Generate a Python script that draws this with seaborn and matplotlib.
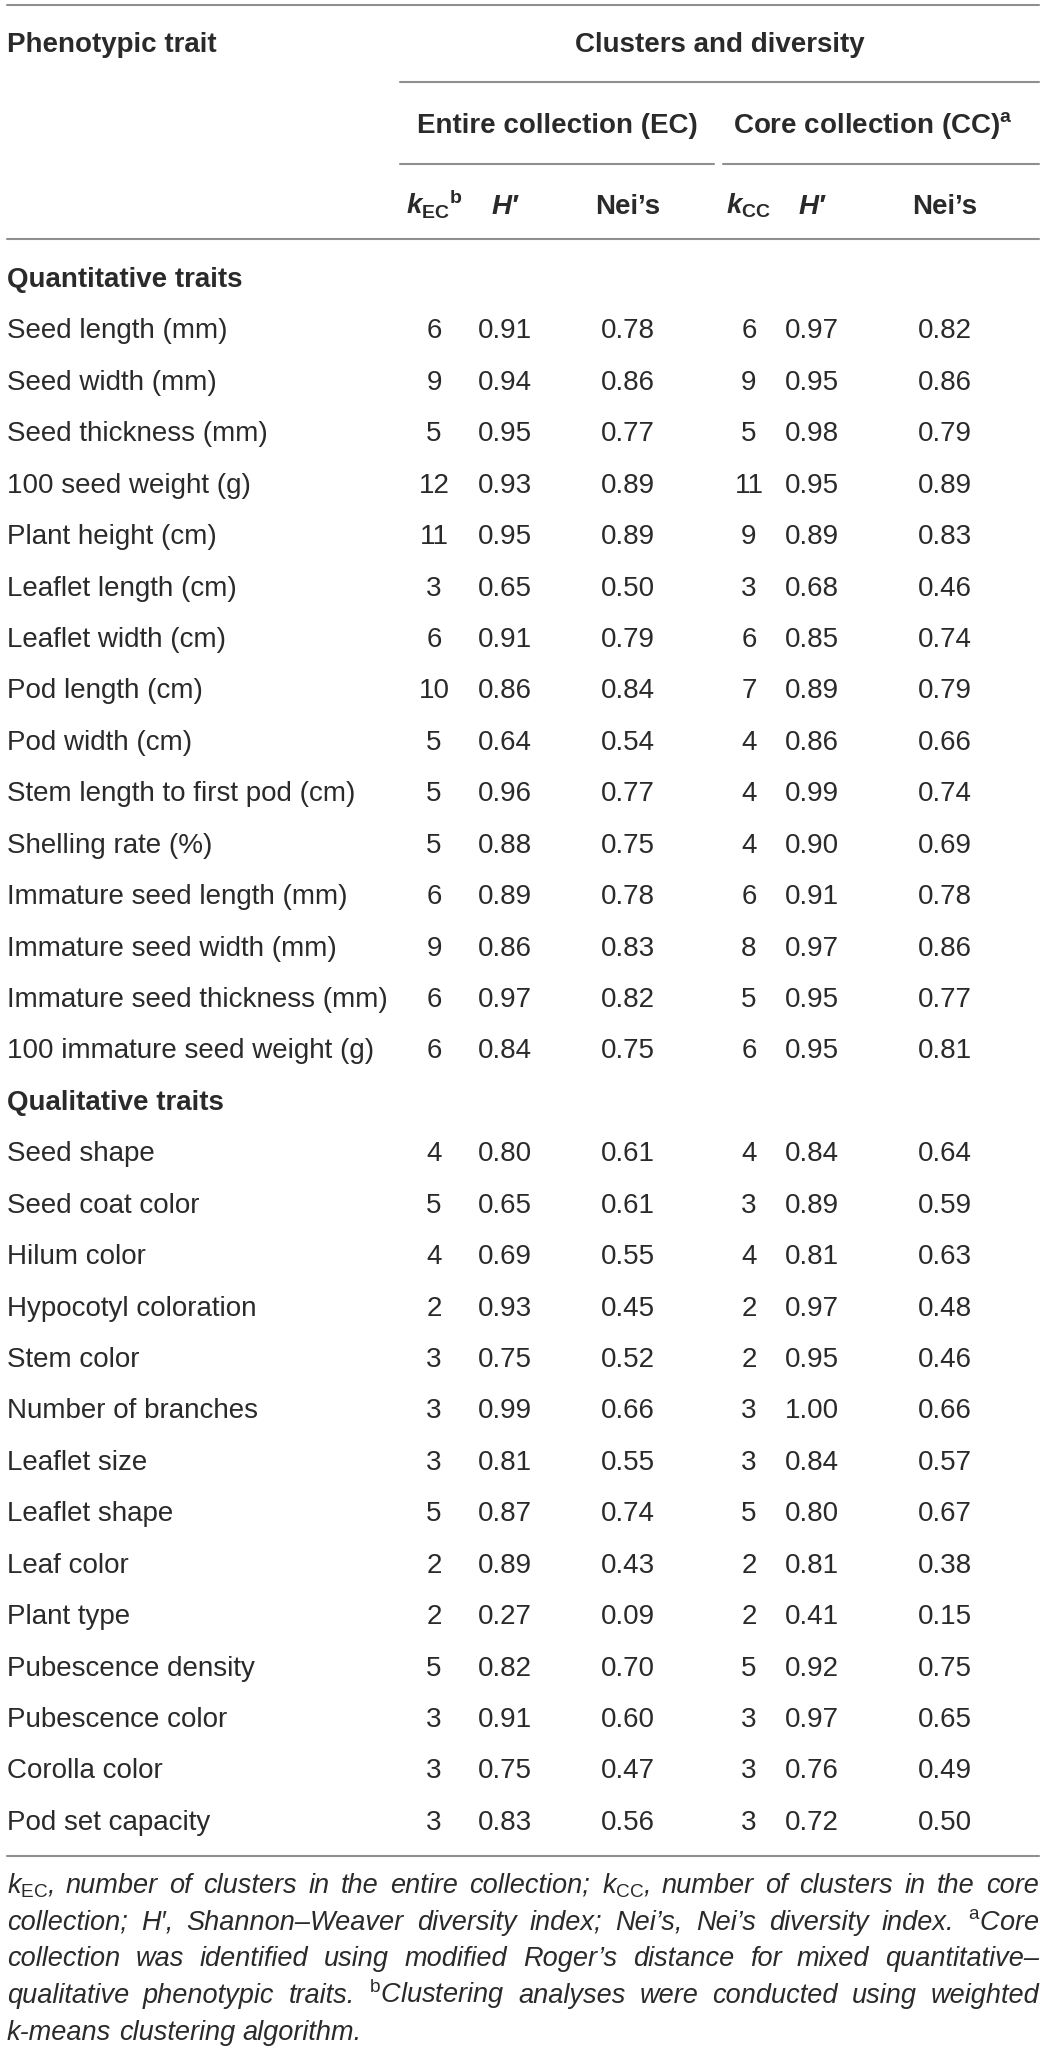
import matplotlib
matplotlib.use('Agg')
import matplotlib.pyplot as plt
import seaborn as sns
import pandas as pd

# Table values
quant_traits = ['Seed length (mm)', 'Seed width (mm)', 'Seed thickness (mm)', '100 seed weight (g)',
                'Plant height (cm)', 'Leaflet length (cm)', 'Leaflet width (cm)', 'Pod length (cm)',
                'Pod width (cm)', 'Stem length to first pod (cm)', 'Shelling rate (%)',
                'Immature seed length (mm)', 'Immature seed width (mm)',
                'Immature seed thickness (mm)', '100 immature seed weight (g)']
qual_traits = ['Seed shape', 'Seed coat color', 'Hilum color', 'Hypocotyl coloration', 'Stem color',
               'Number of branches', 'Leaflet size', 'Leaflet shape', 'Leaf color', 'Plant type',
               'Pubescence density', 'Pubescence color', 'Corolla color', 'Pod set capacity']

k_ec = [6, 9, 5, 12, 11, 3, 6, 10, 5, 5, 5, 6, 9, 6, 6,
        4, 5, 4, 2, 3, 3, 3, 5, 2, 2, 5, 3, 3, 3]
h_ec = [0.91, 0.94, 0.95, 0.93, 0.95, 0.65, 0.91, 0.86, 0.64, 0.96, 0.88, 0.89, 0.86, 0.97, 0.84,
        0.80, 0.65, 0.69, 0.93, 0.75, 0.99, 0.81, 0.87, 0.89, 0.27, 0.82, 0.91, 0.75, 0.83]
nei_ec = [0.78, 0.86, 0.77, 0.89, 0.89, 0.50, 0.79, 0.84, 0.54, 0.77, 0.75, 0.78, 0.83, 0.82, 0.75,
          0.61, 0.61, 0.55, 0.45, 0.52, 0.66, 0.55, 0.74, 0.43, 0.09, 0.70, 0.60, 0.47, 0.56]
k_cc = [6, 9, 5, 11, 9, 3, 6, 7, 4, 4, 4, 6, 8, 5, 6,
        4, 3, 4, 2, 2, 3, 3, 5, 2, 2, 5, 3, 3, 3]
h_cc = [0.97, 0.95, 0.98, 0.95, 0.89, 0.68, 0.85, 0.89, 0.86, 0.99, 0.90, 0.91, 0.97, 0.95, 0.95,
        0.84, 0.89, 0.81, 0.97, 0.95, 1.00, 0.84, 0.80, 0.81, 0.41, 0.92, 0.97, 0.76, 0.72]
nei_cc = [0.82, 0.86, 0.79, 0.89, 0.83, 0.46, 0.74, 0.79, 0.66, 0.74, 0.69, 0.78, 0.86, 0.77, 0.81,
          0.64, 0.59, 0.63, 0.48, 0.46, 0.66, 0.57, 0.67, 0.38, 0.15, 0.75, 0.65, 0.49, 0.50]

sections = ['Quantitative traits', 'Qualitative traits']

footnote = [
    r"$\mathit{k}_{\mathrm{EC}}$, number of clusters in the entire collection; $\mathit{k}_{\mathrm{CC}}$, number of clusters in the core",
    "collection; H\u2032, Shannon\u2013Weaver diversity index; Nei\u2019s, Nei\u2019s diversity index. ${}^{\\mathrm{a}}$Core",
    "collection was identified using modified Roger\u2019s distance for mixed quantitative\u2013",
    "qualitative phenotypic traits. ${}^{\\mathrm{b}}$Clustering analyses were conducted using weighted",
    "k-means clustering algorithm.",
]

df = pd.DataFrame({'trait': quant_traits + qual_traits,
                   'group': [sections[0]] * len(quant_traits) + [sections[1]] * len(qual_traits),
                   'k_ec': k_ec, 'h_ec': h_ec, 'nei_ec': nei_ec,
                   'k_cc': k_cc, 'h_cc': h_cc, 'nei_cc': nei_cc})

sns.set_theme(style='white')
plt.rcParams['font.family'] = ['Liberation Sans', 'DejaVu Sans']
plt.rcParams['mathtext.fontset'] = 'custom'
plt.rcParams['mathtext.rm'] = 'Liberation Sans'
plt.rcParams['mathtext.it'] = 'Liberation Sans:italic'
plt.rcParams['mathtext.bf'] = 'Liberation Sans:bold'
plt.rcParams['mathtext.bfit'] = 'Liberation Sans:italic:bold'

W, H = 1041, 2053
fig = plt.figure(figsize=(W / 100, H / 100), dpi=100)
ax = fig.add_axes([0, 0, 1, 1])
ax.set_xlim(0, W)
ax.set_ylim(H, 0)
ax.axis('off')

txt = '#2a2a2a'
line_c = '#8f8f8f'
fs = 20
off = 10  # cap centre -> baseline
left, right = 7, 1039
col_x = [434, 505, 628, 749, 812, 945]
cols = ['k_ec', 'h_ec', 'nei_ec', 'k_cc', 'h_cc', 'nei_cc']

# header
ax.text(left, 42 + off, 'Phenotypic trait', fontsize=fs, fontweight='bold', color=txt, va='baseline')
ax.text(720, 42 + off, 'Clusters and diversity', fontsize=fs, fontweight='bold', color=txt,
        va='baseline', ha='center')
ax.text(557, 123 + off, 'Entire collection (EC)', fontsize=fs, fontweight='bold', color=txt,
        va='baseline', ha='center')
ax.text(733, 123 + off, r'Core collection (CC)$^{\mathbf{a}}$', fontsize=fs, fontweight='bold',
        color=txt, va='baseline', ha='left')
heads = [r'$\mathbfit{k}_{\mathbf{EC}}{}^{\mathbf{b}}$', 'H\u2032', 'Nei\u2019s',
         r'$\mathbfit{k}_{\mathbf{CC}}$', 'H\u2032', 'Nei\u2019s']
for x, h in zip(col_x, heads):
    style = 'italic' if h.startswith('H') else 'normal'
    ax.text(x, 204 + off, h, fontsize=fs, fontweight='bold', fontstyle=style, color=txt,
            va='baseline', ha='center')

# rules
ax.plot([left, right], [5, 5], color=line_c, lw=1.5)
ax.plot([400, right], [82, 82], color=line_c, lw=1.5)
ax.plot([400, 714], [164, 164], color=line_c, lw=1.5)
ax.plot([723, right], [164, 164], color=line_c, lw=1.5)
ax.plot([left, right], [239, 239], color=line_c, lw=1.5)
ax.plot([left, right], [1856, 1856], color=line_c, lw=1.5)

# body
row_h = 51.43
y = 277
for sec in sections:
    ax.text(left, y + off, sec, fontsize=fs, fontweight='bold', color=txt, va='baseline')
    y += row_h
    for _, r in df[df['group'] == sec].iterrows():
        ax.text(left, y + off, r['trait'], fontsize=fs, color=txt, va='baseline')
        for x, c in zip(col_x, cols):
            v = r[c]
            s = str(int(v)) if c.startswith('k') else f'{v:.2f}'
            ax.text(x, y + off, s, fontsize=fs, color=txt, va='baseline', ha='center')
        y += row_h

# footnote, justified lines
fig.canvas.draw()
rend = fig.canvas.get_renderer()
fy = 1893
for i, line in enumerate(footnote):
    words = line.split(' ')
    objs = [ax.text(0, fy + i * 36.75, w, fontsize=19.5, fontstyle='italic', color=txt,
                    va='baseline') for w in words]
    widths = [o.get_window_extent(rend).width for o in objs]
    if i < len(footnote) - 1:
        gap = (right - left - sum(widths)) / (len(words) - 1)
    else:
        gap = objs[0].get_fontsize() * 0.278 * 100 / 72
    x = left
    for o, w in zip(objs, widths):
        o.set_x(x)
        x += w + gap

fig.savefig('out.png', dpi=100, facecolor='white')
